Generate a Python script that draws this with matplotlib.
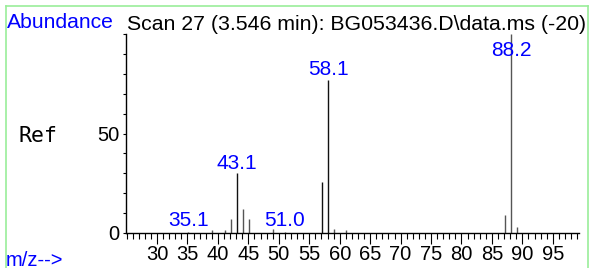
import matplotlib
matplotlib.use("Agg")
import matplotlib.pyplot as plt
from matplotlib.ticker import MultipleLocator, FixedLocator
from matplotlib.lines import Line2D

# ---- data ----
mz = [35.1, 39.1, 41.1, 42.1, 43.1, 44.1, 45.1, 49.1, 51.0, 57.1, 58.1, 59.1, 61.1, 87.1, 88.2, 89.1]
abundance = [0.3, 1.5, 1.5, 7.0, 30.0, 12.0, 7.0, 2.0, 0.3, 25.8, 77.1, 2.0, 1.5, 9.0, 100.0, 3.0]
peak_colors = ["#555555"] * len(mz)
labeled_mz = [35.1, 43.1, 51.0, 58.1, 88.2]
label_text = ["35.1", "43.1", "51.0", "58.1", "88.2"]
xtick_major = list(range(30, 100, 5))
ytick_labels = [0, 50]
title = "Scan 27 (3.546 min): BG053436.D\\data.ms (-20)"

W, H = 590, 268
fig = plt.figure(figsize=(W / 100, H / 100), dpi=100)
fam = ["Liberation Sans", "DejaVu Sans"]

# axes placement (pixels)
left_px, right_px, top_px, bottom_px = 126, 579, 34, 233
ax = fig.add_axes([left_px / W, 1 - bottom_px / H, (right_px - left_px) / W, (bottom_px - top_px) / H])
ax.set_xlim(24.9, 99.3)
ax.set_ylim(0, 100)

for m, a, c in zip(mz, abundance, peak_colors):
    col = "#111111" if a > 20 and m < 60 else c
    ax.vlines(m, 0, a, color=col, linewidth=1.0)

for m, t in zip(labeled_mz, label_text):
    h = abundance[mz.index(m)]
    y = min(max(h + 2.4, 3.5), 88.9)
    ax.text(m, y, t, color="#0000FF", fontsize=15, family=fam, ha="center", va="baseline")

for s in ["top", "right"]:
    ax.spines[s].set_visible(False)
for s in ["left", "bottom"]:
    ax.spines[s].set_linewidth(1.0)
    ax.spines[s].set_color("black")

ax.xaxis.set_major_locator(FixedLocator(xtick_major))
ax.xaxis.set_minor_locator(MultipleLocator(1))
ax.set_xticklabels([str(v) for v in xtick_major], fontsize=14.5, family=fam)
ax.tick_params(axis="x", which="major", length=8, width=0.8, direction="out", pad=1)
ax.tick_params(axis="x", which="minor", length=4.3, width=0.8, direction="out")

ax.yaxis.set_major_locator(FixedLocator(ytick_labels))
ax.yaxis.set_minor_locator(MultipleLocator(10))
ax.set_yticklabels([str(v) for v in ytick_labels], fontsize=14.5, family=fam)
ax.tick_params(axis="y", which="both", length=2.5, width=0.8, direction="out", pad=2)

ax.patch.set_alpha(0)

# texts
fig.text(7 / W, 1 - 28.5 / H, "Abundance", color="#0000FF", fontsize=15.2, family=fam, ha="left", va="baseline")
fig.text(127 / W, 1 - 30 / H, title, color="black", fontsize=15.3, family=fam, ha="left", va="baseline")
fig.text(19 / W, 1 - 136 / H, "Ref", color="black", fontsize=15.5, family=["DejaVu Sans Mono"], ha="left", va="center")
fig.text(6 / W, 1 - 265.5 / H, "m/z-->", color="#0000FF", fontsize=14.5, family=fam, ha="left", va="baseline")

# green frame (top, left, right)
gc = "#99ee99"
fig.add_artist(Line2D([5.5 / W, 5.5 / W], [0, 1 - 6 / H], transform=fig.transFigure, color=gc, linewidth=1.2))
fig.add_artist(Line2D([588 / W, 588 / W], [0, 1 - 6 / H], transform=fig.transFigure, color=gc, linewidth=1.2))
fig.add_artist(Line2D([5.5 / W, 588 / W], [1 - 6 / H, 1 - 6 / H], transform=fig.transFigure, color=gc, linewidth=1.2))

fig.savefig("out.png", dpi=100)
